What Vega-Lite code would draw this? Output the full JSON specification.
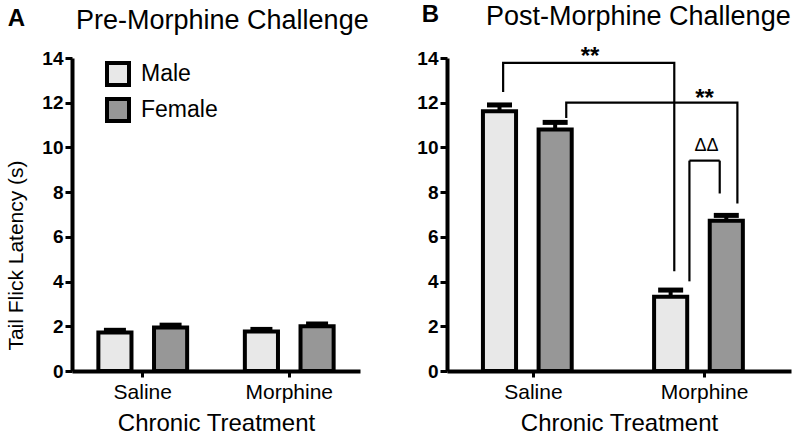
{
  "$schema": "https://vega.github.io/schema/vega-lite/v6.json",
  "background": "white",
  "padding": {"left": 5, "right": 5, "top": 2, "bottom": 3},
  "spacing": 47,
  "datasets": {
    "pre": [
      {"treatment": "Saline", "sex": "Male", "mean": 1.72, "upper": 1.82},
      {"treatment": "Saline", "sex": "Female", "mean": 1.95, "upper": 2.05},
      {"treatment": "Morphine", "sex": "Male", "mean": 1.77, "upper": 1.86},
      {"treatment": "Morphine", "sex": "Female", "mean": 2.0, "upper": 2.1}
    ],
    "post": [
      {"treatment": "Saline", "sex": "Male", "mean": 11.62, "upper": 11.9},
      {"treatment": "Saline", "sex": "Female", "mean": 10.8, "upper": 11.12},
      {"treatment": "Morphine", "sex": "Male", "mean": 3.32, "upper": 3.62},
      {"treatment": "Morphine", "sex": "Female", "mean": 6.72, "upper": 6.96}
    ],
    "brackets": [
      {"id": "male", "treatment": "Saline", "y": 12.48, "step": 1},
      {"id": "male", "treatment": "Saline", "y": 13.78, "step": 2},
      {"id": "male", "treatment": "Morphine", "y": 13.78, "step": 3},
      {"id": "male", "treatment": "Morphine", "y": 4.46, "step": 4},
      {"id": "female", "treatment": "Saline", "y": 11.32, "step": 1},
      {"id": "female", "treatment": "Saline", "y": 12.0, "step": 2},
      {"id": "female", "treatment": "Morphine", "y": 12.0, "step": 3},
      {"id": "female", "treatment": "Morphine", "y": 7.49, "step": 4}
    ],
    "sexdiff": [
      {"treatment": "Morphine", "yMale": 4.01, "yFemale": 7.94, "top": 9.41, "label": "ΔΔ"}
    ],
    "stars": [
      {"id": "male", "treatment": "Saline", "y": 13.75, "label": "**"},
      {"id": "female", "treatment": "Morphine", "y": 11.87, "label": "**"}
    ]
  },
  "resolve": {"scale": {"fill": "independent"}, "legend": {"fill": "independent"}},
  "hconcat": [
    {
      "title": {"text": "A", "anchor": "start", "fontSize": 24, "fontWeight": "bold", "offset": -24, "dx": 2},
      "resolve": {"scale": {"fill": "independent"}, "legend": {"fill": "independent"}},
      "vconcat": [
        {
          "width": 288,
          "height": 313,
          "title": {"text": "Pre-Morphine Challenge", "anchor": "start", "frame": "group", "dx": 4, "offset": 14},
          "data": {"name": "pre"},
          "layer": [
            {
              "mark": {"type": "bar", "stroke": "black", "strokeWidth": 4},
              "encoding": {
                "x": {"field": "treatment", "type": "nominal", "title": "Chronic Treatment", "scale": {"domain": ["Saline", "Morphine"], "paddingInner": 0.394, "paddingOuter": 0.18}},
                "xOffset": {"field": "sex", "type": "nominal", "scale": {"domain": ["Male", "Female"], "paddingInner": 0.405, "paddingOuter": 0}},
                "y": {"field": "mean", "type": "quantitative", "title": "Tail Flick Latency (s)", "scale": {"domain": [0, 14], "nice": false}, "axis": {"values": [0, 2, 4, 6, 8, 10, 12, 14], "titleY": 197}},
                "fill": {
                  "field": "sex", "type": "nominal",
                  "scale": {"domain": ["Male", "Female"], "range": ["#e8e8e8", "#979797"]},
                  "legend": {"orient": "none", "legendX": 33, "legendY": 3, "title": null, "symbolType": "square", "symbolSize": 484, "symbolStrokeColor": "black", "symbolStrokeWidth": 4, "labelFontSize": 23, "labelOffset": 10, "rowPadding": -2, "labelColor": "black", "labelFont": "Liberation Sans"}
                }
              }
            },
            {
              "mark": {"type": "rule", "color": "black", "strokeWidth": 4},
              "encoding": {
                "x": {"field": "treatment", "type": "nominal", "title": "Chronic Treatment", "scale": {"domain": ["Saline", "Morphine"]}},
                "xOffset": {"field": "sex", "type": "nominal", "scale": {"domain": ["Male", "Female"]}},
                "y": {"field": "mean", "type": "quantitative", "title": "Tail Flick Latency (s)", "scale": {"domain": [0, 14], "nice": false}},
                "y2": {"field": "upper"}
              }
            },
            {
              "mark": {"type": "tick", "color": "black", "size": 22, "thickness": 5, "opacity": 1},
              "encoding": {
                "x": {"field": "treatment", "type": "nominal", "title": "Chronic Treatment", "scale": {"domain": ["Saline", "Morphine"]}},
                "xOffset": {"field": "sex", "type": "nominal", "scale": {"domain": ["Male", "Female"]}},
                "y": {"field": "upper", "type": "quantitative", "title": "Tail Flick Latency (s)", "scale": {"domain": [0, 14], "nice": false}}
              }
            }
          ]
        }
      ]
    },
    {
      "title": {"text": "B", "anchor": "start", "fontSize": 24, "fontWeight": "bold", "offset": -24, "dx": 5},
      "resolve": {"scale": {"fill": "independent"}, "legend": {"fill": "independent"}},
      "vconcat": [
        {
          "width": 344,
          "height": 313,
          "title": {"text": "Post-Morphine Challenge", "anchor": "start", "frame": "group", "dx": 39, "offset": 14},
          "layer": [
            {
              "data": {"name": "post"},
              "mark": {"type": "bar", "stroke": "black", "strokeWidth": 4},
              "encoding": {
                "x": {"field": "treatment", "type": "nominal", "title": "Chronic Treatment", "scale": {"domain": ["Saline", "Morphine"], "paddingInner": 0.41, "paddingOuter": 0.21}},
                "xOffset": {"field": "sex", "type": "nominal", "scale": {"domain": ["Male", "Female"], "paddingInner": 0.41, "paddingOuter": 0}},
                "y": {"field": "mean", "type": "quantitative", "title": null, "scale": {"domain": [0, 14], "nice": false}, "axis": {"values": [0, 2, 4, 6, 8, 10, 12, 14]}},
                "fill": {"field": "sex", "type": "nominal", "scale": {"domain": ["Male", "Female"], "range": ["#e8e8e8", "#979797"]}, "legend": null}
              }
            },
            {
              "data": {"name": "post"},
              "mark": {"type": "rule", "color": "black", "strokeWidth": 4},
              "encoding": {
                "x": {"field": "treatment", "type": "nominal", "title": "Chronic Treatment", "scale": {"domain": ["Saline", "Morphine"]}},
                "xOffset": {"field": "sex", "type": "nominal", "scale": {"domain": ["Male", "Female"]}},
                "y": {"field": "mean", "type": "quantitative", "title": null, "scale": {"domain": [0, 14], "nice": false}},
                "y2": {"field": "upper"}
              }
            },
            {
              "data": {"name": "post"},
              "mark": {"type": "tick", "color": "black", "size": 25, "thickness": 5, "opacity": 1},
              "encoding": {
                "x": {"field": "treatment", "type": "nominal", "title": "Chronic Treatment", "scale": {"domain": ["Saline", "Morphine"]}},
                "xOffset": {"field": "sex", "type": "nominal", "scale": {"domain": ["Male", "Female"]}},
                "y": {"field": "upper", "type": "quantitative", "title": null, "scale": {"domain": [0, 14], "nice": false}}
              }
            },
            {
              "data": {"name": "brackets"},
              "transform": [{"filter": "datum.id === 'male'"}],
              "mark": {"type": "line", "color": "black", "strokeWidth": 2.2, "strokeJoin": "miter"},
              "encoding": {
                "x": {"field": "treatment", "type": "nominal", "title": "Chronic Treatment", "bandPosition": 0.2, "scale": {"domain": ["Saline", "Morphine"]}},
                "y": {"field": "y", "type": "quantitative", "title": null, "scale": {"domain": [0, 14], "nice": false}},
                "order": {"field": "step", "type": "quantitative"}
              }
            },
            {
              "data": {"name": "brackets"},
              "transform": [{"filter": "datum.id === 'female'"}],
              "mark": {"type": "line", "color": "black", "strokeWidth": 2.2, "strokeJoin": "miter"},
              "encoding": {
                "x": {"field": "treatment", "type": "nominal", "title": "Chronic Treatment", "bandPosition": 0.825, "scale": {"domain": ["Saline", "Morphine"]}},
                "y": {"field": "y", "type": "quantitative", "title": null, "scale": {"domain": [0, 14], "nice": false}},
                "order": {"field": "step", "type": "quantitative"}
              }
            },
            {
              "data": {"name": "sexdiff"},
              "mark": {"type": "rule", "color": "black", "strokeWidth": 2.2},
              "encoding": {
                "x": {"field": "treatment", "type": "nominal", "title": "Chronic Treatment", "bandPosition": 0.35, "scale": {"domain": ["Saline", "Morphine"]}},
                "y": {"field": "yMale", "type": "quantitative", "title": null, "scale": {"domain": [0, 14], "nice": false}},
                "y2": {"field": "top"}
              }
            },
            {
              "data": {"name": "sexdiff"},
              "mark": {"type": "rule", "color": "black", "strokeWidth": 2.2},
              "encoding": {
                "x": {"field": "treatment", "type": "nominal", "title": "Chronic Treatment", "bandPosition": 0.65, "scale": {"domain": ["Saline", "Morphine"]}},
                "y": {"field": "yFemale", "type": "quantitative", "title": null, "scale": {"domain": [0, 14], "nice": false}},
                "y2": {"field": "top"}
              }
            },
            {
              "data": {"name": "sexdiff"},
              "mark": {"type": "rule", "color": "black", "strokeWidth": 2.2},
              "encoding": {
                "x": {"field": "treatment", "type": "nominal", "title": "Chronic Treatment", "bandPosition": 0.35, "scale": {"domain": ["Saline", "Morphine"]}},
                "x2": {"field": "treatment", "bandPosition": 0.65},
                "y": {"field": "top", "type": "quantitative", "title": null, "scale": {"domain": [0, 14], "nice": false}}
              }
            },
            {
              "data": {"name": "sexdiff"},
              "mark": {"type": "text", "fontSize": 18, "font": "Liberation Sans", "baseline": "alphabetic", "align": "center", "color": "black", "dy": -10},
              "encoding": {
                "x": {"field": "treatment", "type": "nominal", "title": "Chronic Treatment", "bandPosition": 0.52, "scale": {"domain": ["Saline", "Morphine"]}},
                "y": {"field": "top", "type": "quantitative", "title": null, "scale": {"domain": [0, 14], "nice": false}},
                "text": {"field": "label"}
              }
            },
            {
              "data": {"name": "stars"},
              "transform": [{"filter": "datum.id === 'male'"}],
              "mark": {"type": "text", "fontSize": 24, "fontWeight": "bold", "font": "Liberation Sans", "baseline": "alphabetic", "align": "center", "color": "black"},
              "encoding": {
                "x": {"field": "treatment", "type": "nominal", "title": "Chronic Treatment", "bandPosition": 1.06, "scale": {"domain": ["Saline", "Morphine"]}},
                "y": {"field": "y", "type": "quantitative", "title": null, "scale": {"domain": [0, 14], "nice": false}},
                "text": {"field": "label"}
              }
            },
            {
              "data": {"name": "stars"},
              "transform": [{"filter": "datum.id === 'female'"}],
              "mark": {"type": "text", "fontSize": 24, "fontWeight": "bold", "font": "Liberation Sans", "baseline": "alphabetic", "align": "center", "color": "black"},
              "encoding": {
                "x": {"field": "treatment", "type": "nominal", "title": "Chronic Treatment", "bandPosition": 0.5, "scale": {"domain": ["Saline", "Morphine"]}},
                "y": {"field": "y", "type": "quantitative", "title": null, "scale": {"domain": [0, 14], "nice": false}},
                "text": {"field": "label"}
              }
            }
          ]
        }
      ]
    }
  ],
  "config": {
    "font": "Liberation Sans",
    "view": {"stroke": null},
    "title": {"font": "Liberation Sans", "fontSize": 27, "fontWeight": "normal", "color": "black"},
    "axis": {"domainColor": "black", "domainWidth": 4, "tickColor": "black", "tickWidth": 3, "labelColor": "black", "titleColor": "black", "grid": false, "labelFont": "Liberation Sans", "titleFont": "Liberation Sans"},
    "axisY": {"labelFontSize": 19, "labelFontWeight": "bold", "tickSize": 7, "labelPadding": 2, "titleFontSize": 21, "titleFontWeight": "normal", "titlePadding": 15},
    "axisX": {"labelFontSize": 21, "labelAngle": 0, "tickSize": 6, "labelPadding": 4, "titleFontSize": 24, "titleFontWeight": "normal", "titlePadding": 9}
  }
}
